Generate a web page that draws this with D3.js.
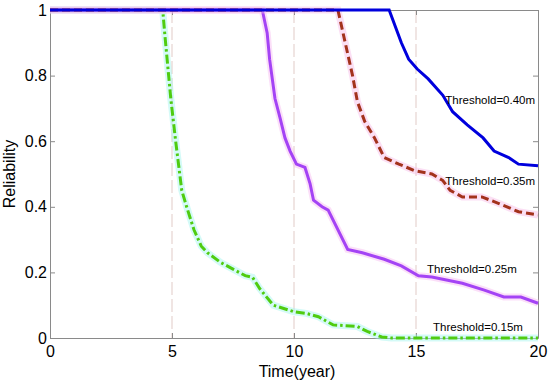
<!DOCTYPE html>
<html>
<head>
<meta charset="utf-8">
<script src="https://cdn.jsdelivr.net/npm/d3@7"></script>
<style>
  body { margin: 0; background: #fff; }
  text { font-family: "Liberation Sans", Arial, sans-serif; }
</style>
</head>
<body>
<div id="chart"></div>
<script>
// data
const t40 = [0, 13.9, 14.4, 14.7, 15.05, 15.5, 16.1, 16.5, 17.1, 17.75, 18.2, 18.8, 19.2, 20];
const r40 = [1, 1, 0.9, 0.85, 0.82, 0.79, 0.74, 0.69, 0.65, 0.61, 0.57, 0.55, 0.53, 0.525];

const t35 = [0, 11.8, 12.1, 12.4, 12.6, 12.9, 13.3, 13.7, 14.3, 14.95, 15.65, 16.1, 16.4, 16.9, 17.7, 18.4, 19.2, 20];
const r35 = [1, 1, 0.9, 0.8, 0.72, 0.66, 0.61, 0.55, 0.53, 0.51, 0.5, 0.48, 0.45, 0.43, 0.43, 0.41, 0.385, 0.375];

const t25 = [0, 8.7, 8.9, 9.0, 9.22, 9.43, 9.63, 9.84, 10.1, 10.45, 10.66, 10.8, 11.15, 11.4, 12.2, 12.8, 13.7, 14.4, 15.1, 15.65, 16.9, 17.8, 18.6, 19.3, 20];
const r25 = [1, 1, 0.93, 0.85, 0.73, 0.67, 0.61, 0.57, 0.53, 0.52, 0.47, 0.42, 0.4, 0.39, 0.27, 0.26, 0.24, 0.22, 0.19, 0.186, 0.167, 0.146, 0.125, 0.125, 0.106];

const t15 = [0, 4.62, 4.7, 4.95, 5.15, 5.4, 5.6, 5.9, 6.2, 6.45, 7, 7.5, 8, 8.3, 8.6, 9.15, 10, 10.5, 11, 11.6, 12.6, 13, 13.6, 14, 20];
const r15 = [1, 1, 0.93, 0.73, 0.6, 0.45, 0.4, 0.33, 0.28, 0.26, 0.23, 0.21, 0.19, 0.185, 0.15, 0.1, 0.08, 0.075, 0.065, 0.04, 0.035, 0.02, 0.003, 0, 0];

const xTicks = [0, 5, 10, 15, 20];
const yTicks = [0, 0.2, 0.4, 0.6, 0.8, 1];
const gridX = [5, 10, 15];

const margin = {top: 10, right: 12, bottom: 43, left: 50},
    width = 550 - margin.left - margin.right,
    height = 381 - margin.top - margin.bottom;

var svg = d3.select("#chart")
  .append("svg")
    .attr("width", 550)
    .attr("height", 381)
  .append("g")
    .attr("transform", "translate(" + margin.left + "," + margin.top + ")");

var x = d3.scaleLinear().domain([0, 20]).range([0, width]);
var y = d3.scaleLinear().domain([0, 1]).range([height, 0]);

// dashed vertical guides
svg.selectAll(".grid")
  .data(gridX)
  .enter().append("line")
  .attr("x1", d => x(d)).attr("x2", d => x(d))
  .attr("y1", 0).attr("y2", height)
  .attr("stroke", "#e8d8d4")
  .attr("stroke-width", 1.3)
  .attr("stroke-dasharray", "13,4");

function axisStyle(g) {
  g.select(".domain").attr("stroke", "#8a8a8a");
  g.selectAll(".tick line").attr("stroke", "#8a8a8a");
  g.selectAll("text").style("font-size", "16px").attr("fill", "#000");
}

svg.append("g")
  .attr("transform", `translate(0,${height})`)
  .call(d3.axisBottom(x).tickValues(xTicks).tickFormat(d3.format("d")).tickSizeInner(-5).tickSizeOuter(0).tickPadding(8))
  .call(axisStyle);

svg.append("g")
  .call(d3.axisLeft(y).tickValues(yTicks).tickFormat(d => d === 0 ? "0" : d === 1 ? "1" : d3.format(".1f")(d)).tickSizeInner(-5).tickSizeOuter(0).tickPadding(3))
  .call(axisStyle);

svg.append("g")
  .call(d3.axisTop(x).tickValues(xTicks).tickSizeInner(-5).tickSizeOuter(0).tickFormat(""))
  .call(axisStyle);

svg.append("g")
  .attr("transform", `translate(${width},0)`)
  .call(d3.axisRight(y).tickValues(yTicks).tickSizeInner(-5).tickSizeOuter(0).tickFormat(""))
  .call(axisStyle);

var line = d3.line()
  .x(d => x(d[0]))
  .y(d => y(d[1]));

const series = [
  {t: t15, r: r15, color: "#4fcc10", halo: "#9ff5ee", dash: "9,3,2.5,3"},
  {t: t25, r: r25, color: "#a443f5", halo: "#f7b8f0", dash: null},
  {t: t35, r: r35, color: "#a3321c", halo: "#f7b8e6", dash: "8,4"},
  {t: t40, r: r40, color: "#0000dd", halo: null, dash: null}
];

series.forEach(s => {
  const pts = d3.zip(s.t, s.r);
  if (s.halo) {
    svg.append("path")
      .datum(pts)
      .attr("fill", "none")
      .attr("stroke", s.halo)
      .attr("stroke-opacity", 0.45)
      .attr("stroke-width", 7)
      .attr("d", line);
  }
  svg.append("path")
    .datum(pts)
    .attr("fill", "none")
    .attr("stroke", s.color)
    .attr("stroke-width", 3)
    .attr("stroke-dasharray", s.dash)
    .attr("d", line);
});

// curve labels
const labels = [
  {text: "Threshold=0.40m", t: 16.2, r: 0.725},
  {text: "Threshold=0.35m", t: 16.2, r: 0.48},
  {text: "Threshold=0.25m", t: 15.45, r: 0.21},
  {text: "Threshold=0.15m", t: 15.7, r: 0.034}
];
svg.selectAll(".lbl")
  .data(labels)
  .enter().append("text")
  .attr("x", d => x(d.t))
  .attr("y", d => y(d.r))
  .attr("dy", "0.35em")
  .style("font-size", "11.5px")
  .text(d => d.text);

svg.append("text")
  .attr("text-anchor", "middle")
  .attr("x", width / 2 + 3)
  .attr("y", height + 39)
  .style("font-size", "16px")
  .text("Time(year)");

svg.append("text")
  .attr("text-anchor", "middle")
  .attr("transform", `translate(${-35},${164}) rotate(-90)`)
  .style("font-size", "16px")
  .text("Reliability");
</script>
</body>
</html>
